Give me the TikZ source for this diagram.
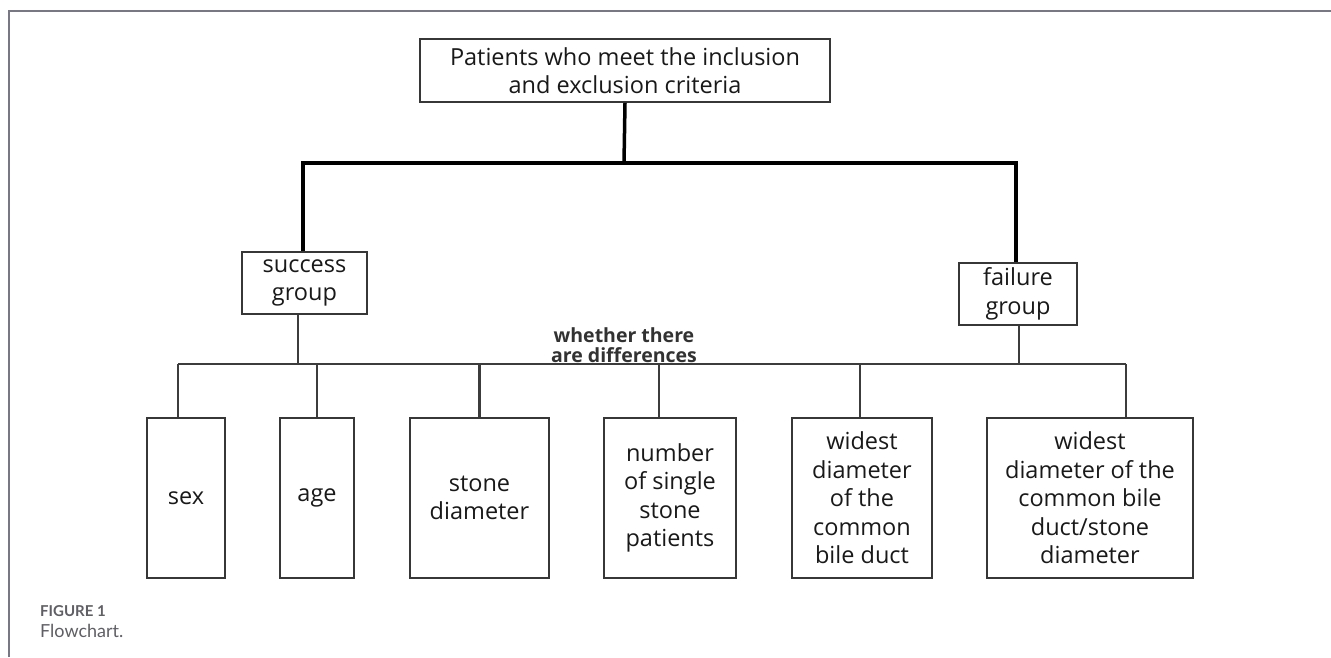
\documentclass[tikz,border=0pt]{standalone}
\usepackage{fontspec}
\setmainfont{Open Sans}
\newfontfamily\capfont{Lato}
\definecolor{boxc}{RGB}{55,55,55}
\definecolor{txtc}{RGB}{25,25,25}
\definecolor{busc}{RGB}{60,60,60}
\definecolor{framec}{RGB}{120,120,132}
\definecolor{capc}{RGB}{95,95,100}
\definecolor{diffc}{RGB}{50,50,50}
\begin{document}
\begin{tikzpicture}[x=1pt,y=-1pt,
  box/.style={draw=boxc, line width=1.8pt, align=center, inner sep=0pt, text=txtc,
    font=\fontsize{23.5}{28.5}\selectfont},
  conn/.style={draw=black, line width=3.5pt},
  bus/.style={draw=busc, line width=2.2pt},
  framel/.style={draw=framec, line width=1.6pt}]
\useasboundingbox (0,0) rectangle (1331,657);
\fill[white] (0,0) rectangle (1331,657);
\draw[framel] (9,657) -- (9,11) -- (1331,11);

% top node
\node[box, minimum width=410pt, minimum height=63pt] (top) at (625,70.5)
  {Patients who meet the inclusion\\and exclusion criteria};
% groups
\node[box, minimum width=125pt, minimum height=62pt] (succ) at (304.5,283) {success\\group};
\node[box, minimum width=118pt, minimum height=62pt] (fail) at (1018,294) {failure\\group};

% bottom boxes
\node[box, minimum width=78pt, minimum height=160pt] (sex) at (186,498) {sex};
\node[box, minimum width=74pt, minimum height=160pt] (age) at (317,498) {age};
\node[box, minimum width=139pt, minimum height=160pt] (stone) at (479.5,498) {stone\\diameter};
\node[box, minimum width=132pt, minimum height=160pt] (num) at (670,498) {number\\of single\\stone\\patients};
\node[box, minimum width=140pt, minimum height=160pt] (wa) at (862,498) {widest\\diameter\\of the\\common\\bile duct};
\node[box, minimum width=206pt, minimum height=160pt] (wb) at (1090,498) {widest\\diameter of the\\common bile\\duct/stone\\diameter};

% label
\node[font=\bfseries\fontsize{19.5}{20}\selectfont, text=diffc, align=center] (diff) at (624,345)
  {whether there\\are differences};

% connectors top
\coordinate (jT) at (624,163);
\draw[conn] (top.south) -- (jT);
\draw[conn] ([xshift=-1.5pt]succ.north) |- (jT) -| ([xshift=-2pt]fail.north);

% bus
\coordinate (busL) at (178,364);
\coordinate (busR) at (1126,364);
\draw[bus] (busL) -- (busR);
\draw[bus] ([xshift=-6.5pt]succ.south) -- ([xshift=-6.5pt]succ.south |- busL);
\draw[bus] ([xshift=1pt]fail.south) -- ([xshift=1pt]fail.south |- busL);
\draw[bus] (busL) -- (busL |- sex.north);
\draw[bus] (age.north |- busL) -- (age.north);
\draw[bus] (stone.north |- busL) -- (stone.north);
\draw[bus] ([xshift=-11pt]num.north |- busL) -- ([xshift=-11pt]num.north);
\draw[bus] ([xshift=-2pt]wa.north |- busL) -- ([xshift=-2pt]wa.north);
\draw[bus] (busR) -- (busR |- wb.north);

% caption
\node[anchor=west, inner sep=0pt, font=\capfont\bfseries\fontsize{15}{16}\selectfont, text=capc] (fig) at (40,611) {FIGURE 1};
\node[anchor=west, inner sep=0pt, font=\capfont\fontsize{18}{20}\selectfont, text=capc] (cap) at (40,631) {Flowchart.};
\end{tikzpicture}
\end{document}
